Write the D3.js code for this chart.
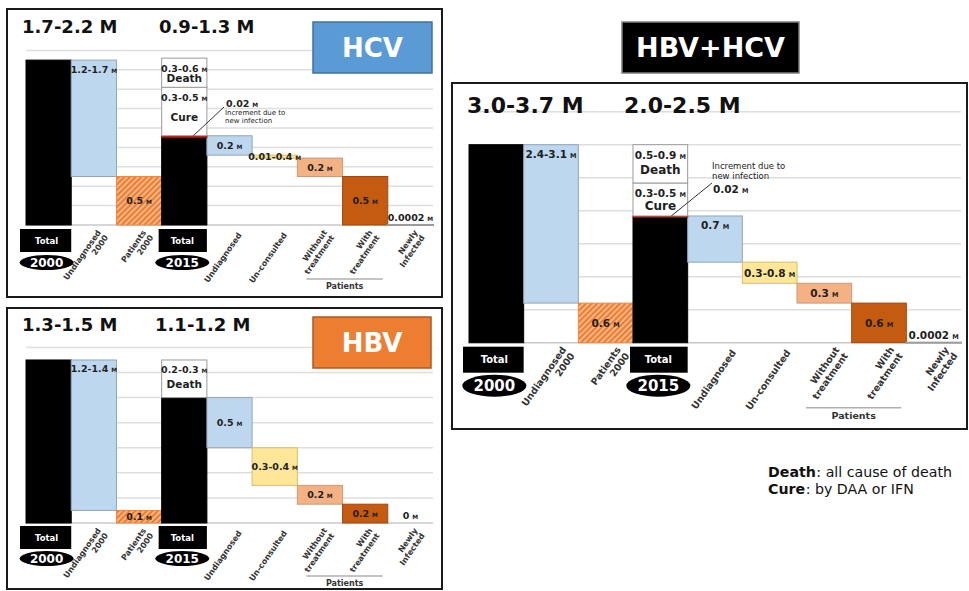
<!DOCTYPE html>
<html><head><meta charset="utf-8">
<script src="https://cdn.jsdelivr.net/npm/d3@7"></script>
<style>
body{margin:0;background:#fff}
svg{display:block}
text{font-family:"DejaVu Sans",Verdana,sans-serif}
</style>
</head><body>
<svg id="c" width="969" height="591"></svg>
<script>
// ---------------- DATA ----------------
const categories = ["Total 2000","Undiagnosed 2000","Patients 2000","Total 2015","Undiagnosed","Un-consulted","Without treatment","With treatment","Newly Infected"];
const axisLabels = [["Total"],["Undiagnosed","2000"],["Patients","2000"],["Total"],["Undiagnosed"],["Un-consulted"],["Without","treatment"],["With","treatment"],["Newly","Infected"]];
const yearLabels = ["2000","2015"];
const groupLabel = "Patients";

// bar sizes (million people)
const hcvValues  = [1.7, 1.2, 0.5, 0.9, 0.2, 0.03, 0.19, 0.5, 0.0002];
const hbvValues  = [1.3, 1.2, 0.1, 1.0, 0.4, 0.3, 0.15, 0.15, 0];
const bothValues = [3.0, 2.4, 0.6, 1.9, 0.7, 0.32, 0.3, 0.6, 0.0002];

const hcvIncrement = 0.02, hbvIncrement = 0, bothIncrement = 0.02;
const hcvCure = 0.5, hbvCure = 0, bothCure = 0.5;
const hcvDeath = 0.3, hbvDeath = 0.3, bothDeath = 0.58;

// printed labels
const hcvLabels  = ["","1.2-1.7","0.5","","0.2","0.01-0.4","0.2","0.5","0.0002"];
const hbvLabels  = ["","1.2-1.4","0.1","","0.5","0.3-0.4","0.2","0.2","0"];
const bothLabels = ["","2.4-3.1","0.6","","0.7","0.3-0.8","0.3","0.6","0.0002"];
const hcvTotals  = ["1.7-2.2 M","0.9-1.3 M"];
const hbvTotals  = ["1.3-1.5 M","1.1-1.2 M"];
const bothTotals = ["3.0-3.7 M","2.0-2.5 M"];
const hcvDeathLabel = "0.3-0.6", hcvCureLabel = "0.3-0.5";
const hbvDeathLabel = "0.2-0.3", hbvCureLabel = "";
const bothDeathLabel = "0.5-0.9", bothCureLabel = "0.3-0.5";
const incrementLabel = "0.02";
const incrementText = ["Increment due to","new infection"];
const hcvGrid  = [0,0.2,0.4,0.6,0.8,1.0,1.2,1.4,1.6,1.8];
const hbvGrid  = [0,0.2,0.4,0.6,0.8,1.0,1.2,1.4];
const bothGrid = [0,0.5,1.0,1.5,2.0,2.5,3.0,3.5];
const panelNames = ["HCV","HBV","HBV+HCV"];
const legendLines = [["Death",": all cause of death"],["Cure",": by DAA or IFN"]];

// ---------------- STYLE / LAYOUT ----------------
const fills   = ["#000","#bdd7ee","url(#hatch)","#000","#bdd7ee","#ffe699","#f4b183","#c55a11","#fff"];
const strokes = ["#000","#95a5b8","#e98a45","#000","#95a5b8","#d9bf60","#c99a78","#9c4a12","#9a9a9a"];

const panels = [
 {name:panelNames[0], values:hcvValues, inc:hcvIncrement, cure:hcvCure, death:hcvDeath, labels:hcvLabels,
  totals:hcvTotals, deathLabel:hcvDeathLabel, cureLabel:hcvCureLabel, grid:hcvGrid,
  frame:[7,9,435,288], x0:26, x1:433, base:225, ppm:97,
  heads:[[22,33],[159,33]], headFont:18,
  tag:{x:313,y:22,w:119,h:51,fill:"#5b9bd5",stroke:"#41719c",font:26},
  valFont:9.5, axFont:8, axOff:10, wordFont:10.5, yearFont:12, totalFont:8.5,
  tb:{dy:4,h:23,ey:37.5,rx:27,ry:7.5},
  pos:["","top","center","","center","center","center","center","above"],
  ann:{end:[224,107], font:7, valFont:9.5, rows:[["v",226,107],["t0",225,115],["t1",225,123]]},
  patY:54, patFont:8},
 {name:panelNames[1], values:hbvValues, inc:hbvIncrement, cure:hbvCure, death:hbvDeath, labels:hbvLabels,
  totals:hbvTotals, deathLabel:hbvDeathLabel, cureLabel:hbvCureLabel, grid:hbvGrid,
  frame:[7,308,435,281], x0:26, x1:433, base:523, ppm:125.4,
  heads:[[22,331],[155,331]], headFont:18,
  tag:{x:313,y:317,w:118,h:51,fill:"#ed7d31",stroke:"#ae5a21",font:26},
  valFont:9.5, axFont:8, axOff:10, wordFont:10.5, yearFont:12, totalFont:8.5,
  tb:{dy:3,h:23,ey:35.5,rx:27,ry:7.5},
  pos:["","top","center","","center","center","center","center","above"],
  ann:null, patY:53, patFont:8},
 {name:panelNames[2], values:bothValues, inc:bothIncrement, cure:bothCure, death:bothDeath, labels:bothLabels,
  totals:bothTotals, deathLabel:bothDeathLabel, cureLabel:bothCureLabel, grid:bothGrid,
  frame:[452,83,515,346], x0:469, x1:961, base:342.7, ppm:66,
  heads:[[467,113],[624,113]], headFont:22,
  tag:{x:622,y:22,w:177,h:51,fill:"#000",stroke:"#7f7f7f",font:27},
  valFont:10.5, axFont:9.5, axOff:6, wordFont:12, yearFont:15, totalFont:10,
  tb:{dy:4,h:26,ey:43,rx:32,ry:11},
  pos:["","top","center","","top","center","center","center","above"],
  ann:{end:[712,183], font:8.5, valFont:10.5, rows:[["t0",712,169],["t1",712,179],["v",713,193]]},
  patY:65, patFont:9.5}
];

const svg = d3.select("#c");
const defs = svg.append("defs");
const pat = defs.append("pattern").attr("id","hatch").attr("patternUnits","userSpaceOnUse")
  .attr("width",4).attr("height",4).attr("patternTransform","rotate(45)");
pat.append("rect").attr("width",4).attr("height",4).attr("fill","#f7b584");
pat.append("rect").attr("width",2).attr("height",4).attr("fill","#ee7d32");

function valText(g, x, y, num, f, anchor){
  const t = g.append("text").attr("x",x).attr("y",y).attr("text-anchor",anchor||"middle")
    .attr("font-weight","bold").attr("fill","#1e1e1e").attr("font-size",f);
  t.append("tspan").text(num);
  t.append("tspan").attr("font-size",f*0.62).attr("dx",f*0.3).text("M");
  return t;
}

panels.forEach(p => {
  const g = svg.append("g");
  const [fx,fy,fw,fh] = p.frame;
  const x = d3.scaleBand().domain(categories).range([p.x0,p.x1]).padding(0);
  const dmax = p.grid[p.grid.length-1];
  const y = d3.scaleLinear().domain([0,dmax]).range([p.base, p.base - dmax*p.ppm]);
  const bw = x.bandwidth();

  // frame
  g.append("rect").attr("x",fx).attr("y",fy).attr("width",fw).attr("height",fh)
    .attr("fill","#fff").attr("stroke","#1a1a1a").attr("stroke-width",2);

  // gridlines
  g.append("g").selectAll("line").data(p.grid).join("line")
    .attr("x1",p.x0).attr("x2",p.x1).attr("y1",d=>y(d)).attr("y2",d=>y(d))
    .attr("stroke",d=>d===0?"#c8c8c8":"#dedede").attr("stroke-width",1.5);

  // waterfall segments
  const v = p.values;
  const top15 = v[3] + p.inc;
  let run = top15;
  const segs = v.map((val,i) => {
    if (i===0) return [0,val];
    if (i===1) return [v[0]-val, v[0]];
    if (i===2 || i===3 || i===8) return [0,val];
    const s = [run-val, run]; run -= val; return s;
  });
  const bars = g.append("g");
  segs.forEach((s,i) => {
    const yt = y(s[1]), yb = y(s[0]);
    bars.append("rect").attr("x",x(categories[i])).attr("y",yt)
      .attr("width",bw).attr("height",Math.max(0,yb-yt))
      .attr("fill",fills[i]).attr("stroke",strokes[i]).attr("stroke-width",i===8?2:1);
  });
  // increment, cure, death on Total 2015
  const x3 = x(categories[3]);
  const stack = [];
  if (p.inc>0) bars.append("rect").attr("x",x3).attr("y",y(top15)).attr("width",bw)
     .attr("height",Math.max(1,y(v[3])-y(top15))).attr("fill","#c00000").attr("stroke","#c00000").attr("stroke-width",1);
  let b = top15;
  if (p.cure>0){ stack.push({lo:b,hi:b+p.cure,num:p.cureLabel,word:"Cure"}); b+=p.cure; }
  if (p.death>0){ stack.push({lo:b,hi:b+p.death,num:p.deathLabel,word:"Death"}); b+=p.death; }
  stack.forEach(s => {
    const yt=y(s.hi), yb=y(s.lo);
    bars.append("rect").attr("x",x3).attr("y",yt).attr("width",bw).attr("height",yb-yt)
      .attr("fill","#fff").attr("stroke","#9a9a9a").attr("stroke-width",1);
    const nb = yt + p.valFont + 4;
    valText(g, x3+bw/2, nb, s.num, p.valFont);
    const wc = (nb + yb)/2 - 1;
    g.append("text").attr("x",x3+bw/2).attr("y",wc + p.wordFont*0.36).attr("text-anchor","middle")
      .attr("font-weight","bold").attr("font-size",p.wordFont).attr("fill","#1e1e1e").text(s.word);
  });

  // value labels
  segs.forEach((s,i) => {
    const lab = p.labels[i]; if (!lab) return;
    const cx = x(categories[i]) + bw/2;
    const yt=y(s[1]), yb=y(s[0]);
    let ly;
    if (p.pos[i]==="top") ly = yt + p.valFont + 3;
    else if (p.pos[i]==="above") ly = p.base - 4;
    else ly = (yt+yb)/2 + p.valFont*0.36;
    valText(g, cx, ly, lab, p.valFont);
  });

  // increment annotation
  if (p.ann){
    const a = p.ann;
    g.append("line").attr("x1",x3+bw*0.7).attr("y1",y(top15)).attr("x2",a.end[0]).attr("y2",a.end[1])
      .attr("stroke","#333").attr("stroke-width",1);
    a.rows.forEach(r => {
      if (r[0]==="v") valText(g, r[1], r[2], incrementLabel, a.valFont, "start");
      else g.append("text").attr("x",r[1]).attr("y",r[2]).attr("font-size",a.font).attr("fill","#222")
        .text(incrementText[r[0]==="t0"?0:1]);
    });
  }

  // headline totals
  p.totals.forEach((t,i) => {
    g.append("text").attr("x",p.heads[i][0]).attr("y",p.heads[i][1]).attr("font-size",p.headFont)
      .attr("font-weight","bold").attr("fill","#111").text(t);
  });

  // name tag
  const tg = p.tag;
  g.append("rect").attr("x",tg.x).attr("y",tg.y).attr("width",tg.w).attr("height",tg.h)
    .attr("fill",tg.fill).attr("stroke",tg.stroke).attr("stroke-width",1.5);
  g.append("text").attr("x",tg.x+tg.w/2).attr("y",tg.y+tg.h/2+tg.font*0.36).attr("text-anchor","middle")
    .attr("font-size",tg.font).attr("font-weight","bold").attr("fill","#fff").text(p.name);

  // Total boxes + year ellipses
  [0,3].forEach((ci,k) => {
    const bx = x(categories[ci]);
    const cx = bx - 2 + bw/2;
    g.append("rect").attr("x",bx-(k?3:6)).attr("y",p.base+p.tb.dy).attr("width",bw+(k?3:6)).attr("height",p.tb.h).attr("fill","#000");
    g.append("text").attr("x",cx).attr("y",p.base+p.tb.dy+p.tb.h/2+p.totalFont*0.36)
      .attr("text-anchor","middle").attr("font-size",p.totalFont).attr("font-weight","bold").attr("fill","#fff").text(axisLabels[ci][0]);
    g.append("ellipse").attr("cx",cx).attr("cy",p.base+p.tb.ey).attr("rx",p.tb.rx).attr("ry",p.tb.ry).attr("fill","#000");
    g.append("text").attr("x",cx).attr("y",p.base+p.tb.ey+p.yearFont*0.36).attr("text-anchor","middle")
      .attr("font-size",p.yearFont).attr("font-weight","bold").attr("fill","#fff").text(yearLabels[k]);
  });

  // rotated category labels (multi-line blocks centred on the anchor)
  categories.forEach((c,i) => {
    if (i===0||i===3) return;
    const lines = axisLabels[i];
    const ax = x(c) + bw - p.axOff - (lines.length>1?1.5:0), ay = p.base + 10;
    const t = g.append("text").attr("transform",`translate(${ax},${ay}) rotate(-55)`)
      .attr("text-anchor","end").attr("font-size",p.axFont).attr("font-weight","bold").attr("fill","#333");
    const start = -(lines.length-1)*0.55;
    lines.forEach((l,j) => t.append("tspan").attr("x",0).attr("dy",(j===0?start:1.1)+"em").text(l));
  });

  // Patients bracket
  const px0 = x(categories[6]) + 9, px1 = x(categories[7]) + bw - 5;
  g.append("line").attr("x1",px0).attr("x2",px1).attr("y1",p.base+p.patY).attr("y2",p.base+p.patY)
    .attr("stroke","#b0b0b0").attr("stroke-width",1.5);
  g.append("text").attr("x",(px0+px1)/2).attr("y",p.base+p.patY+p.patFont+2).attr("text-anchor","middle")
    .attr("font-size",p.patFont).attr("font-weight","bold").attr("fill","#333").text(groupLabel);
});

// legend (bold term and its explanation as separate texts)
legendLines.forEach((l,i) => {
  const yy = 477 + i*17;
  const b = svg.append("text").attr("x",768).attr("y",yy).attr("font-size",14.2)
    .attr("font-weight","bold").attr("fill","#111").text(l[0]);
  const w = b.node().getComputedTextLength();
  svg.append("text").attr("x",768 + w + 0.5).attr("y",yy).attr("font-size",14.2).attr("fill","#111").text(l[1]);
});
</script>
</body></html>
